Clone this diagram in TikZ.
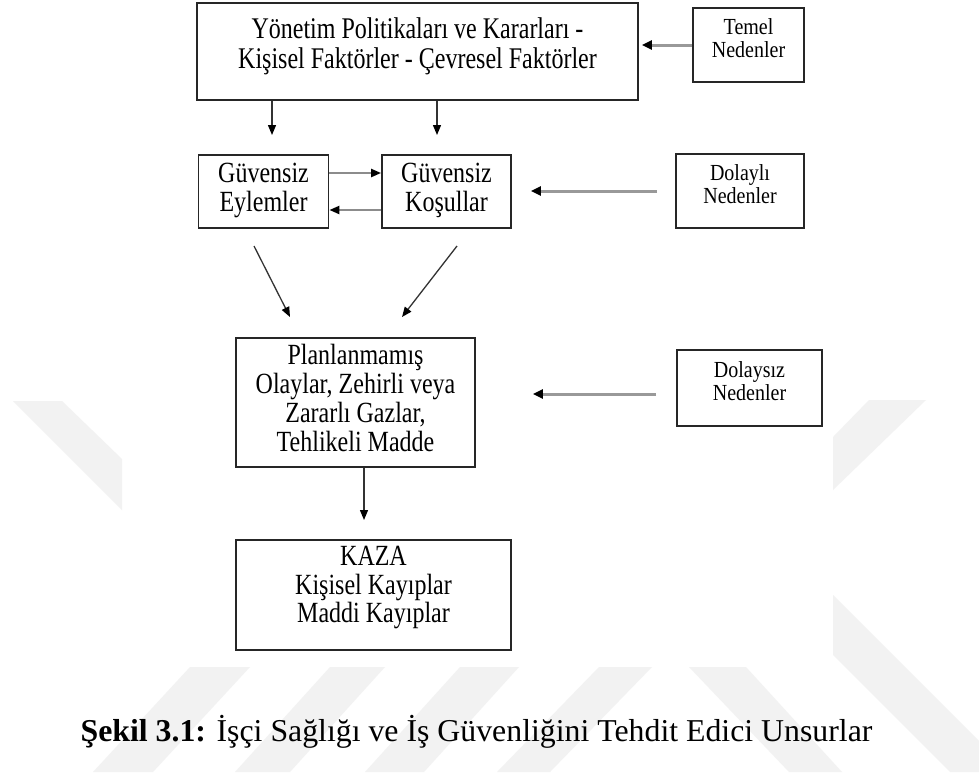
\documentclass[tikz,border=0pt]{standalone}
\usepackage{fontspec}
\setmainfont{Liberation Serif}
\usepackage{graphicx}
\usetikzlibrary{arrows.meta}
\newcommand\boxtext[4]{\scalebox{1}[#3]{\fontsize{#1}{#2}\selectfont\begin{tabular}{@{}c@{}}#4\end{tabular}}}
\tikzset{
  box/.style={draw=black!85, line width=1.8pt, fill=white, inner sep=0pt},
  txt/.style={inner sep=0pt, text=black},
  darr/.style={draw=black!80, line width=1.3pt, -{Triangle[length=10pt,width=8pt,color=black]}},
  garr/.style={draw=black!40, line width=3pt, -{Triangle[length=10pt,width=9pt,color=black]}},
  garrb/.style={draw=black!45, line width=2.2pt, -{Triangle[length=10pt,width=8pt,color=black]}},
  wm/.style={fill=black!5, draw=none}
}
\begin{document}
\begin{tikzpicture}[x=1pt,y=-1pt]
\useasboundingbox (0,0) rectangle (979,774);
\fill[white] (0,0) rectangle (979,774);
% watermark
\fill[wm] (13,401) -- (62,401) -- (122,459) -- (122,510) -- cycle;
\fill[wm] (869,400) -- (926,400) -- (833,490) -- (833,437) -- cycle;
\fill[wm] (833,595) -- (979,741) -- (979,772) -- (950,772) -- (833,655) -- cycle;
\fill[wm] (190,667) -- (250,667) -- (153,772) -- (93,772) -- cycle;
\fill[wm] (330,667) -- (385,667) -- (290,772) -- (235,772) -- cycle;
\fill[wm] (460,667) -- (519,667) -- (424,772) -- (365,772) -- cycle;
\fill[wm] (599,667) -- (652,667) -- (550,772) -- (497,772) -- cycle;
\fill[wm] (689,667) -- (746,667) -- (842,772) -- (789,772) -- cycle;
% boxes
\node[box, minimum width=441pt, minimum height=97pt] (topbox) at (417.5,51.5) {};
\node[box, minimum width=111pt, minimum height=74pt] (temel) at (748.5,45) {};
\node[box, minimum width=130pt, minimum height=73pt] (eylem) at (263.5,191.5) {};
\node[box, minimum width=129pt, minimum height=73pt] (kosul) at (446.5,191.5) {};
\node[box, minimum width=128pt, minimum height=74pt] (dolayli) at (740,191) {};
\node[box, minimum width=239pt, minimum height=129pt] (plan) at (355.5,402.5) {};
\node[box, minimum width=145pt, minimum height=76pt] (dolaysiz) at (749.5,388) {};
\node[box, minimum width=275pt, minimum height=110pt] (kaza) at (373.5,595) {};
% texts
\node[txt] (toptxt) at (417.5,47) {\boxtext{24}{24}{1.25}{Yönetim Politikaları ve Kararları -\\Kişisel Faktörler - Çevresel Faktörler}};
\node[txt] (temeltxt) at (748.5,41.5) {\boxtext{20}{20}{1.15}{Temel\\Nedenler}};
\node[txt] (eylemtxt) at (263.5,191.5) {\boxtext{24}{22.7}{1.22}{Güvensiz\\Eylemler}};
\node[txt] (kosultxt) at (446.5,191.5) {\boxtext{24}{22.7}{1.22}{Güvensiz\\Koşullar}};
\node[txt] (dolaylitxt) at (740,187) {\boxtext{20}{20}{1.15}{Dolaylı\\Nedenler}};
\node[txt] (plantxt) at (355.5,402) {\boxtext{24}{23.4}{1.22}{Planlanmamış\\Olaylar, Zehirli veya\\Zararlı Gazlar,\\Tehlikeli Madde}};
\node[txt] (dolaysiztxt) at (749.5,384) {\boxtext{20}{20}{1.15}{Dolaysız\\Nedenler}};
\node[txt] (kazatxt) at (373.5,588.5) {\boxtext{24}{22.2}{1.22}{KAZA\\Kişisel Kayıplar\\Maddi Kayıplar}};
% caption
\node[txt, anchor=base] (caption) at (476.5,741) {\fontsize{31.8}{38}\selectfont\textbf{Şekil 3.1:} İşçi Sağlığı ve İş Güvenliğini Tehdit Edici Unsurlar};
% connectors
\coordinate (a1) at (272,135);
\coordinate (a2) at (437,135);
\draw[darr] (a1 |- topbox.south) -- (a1);
\draw[darr] (a2 |- topbox.south) -- (a2);
\draw[garr, shorten >=3pt] (temel.west) -- (temel.west -| topbox.east);
\draw[garrb] ([yshift=18.5pt]eylem.east) -- ([yshift=18.5pt]kosul.west);
\draw[garrb] ([yshift=-18.5pt]kosul.west) -- ([yshift=-18.5pt]eylem.east);
\draw[garr, shorten <=18pt, shorten >=19pt] (dolayli.west) -- (dolayli.west -| kosul.east);
\coordinate (d1s) at (254,246);
\coordinate (d1e) at (290,317);
\coordinate (d2s) at (457,246);
\coordinate (d2e) at (402,317);
\draw[darr] (d1s) -- (d1e);
\draw[darr] (d2s) -- (d2e);
\draw[garr, shorten <=20pt, shorten >=57pt] ([yshift=-6pt]dolaysiz.west) -- ([yshift=-6pt]dolaysiz.west -| plan.east);
\coordinate (k1) at (364,520);
\draw[darr] (k1 |- plan.south) -- (k1);
\end{tikzpicture}
\end{document}
